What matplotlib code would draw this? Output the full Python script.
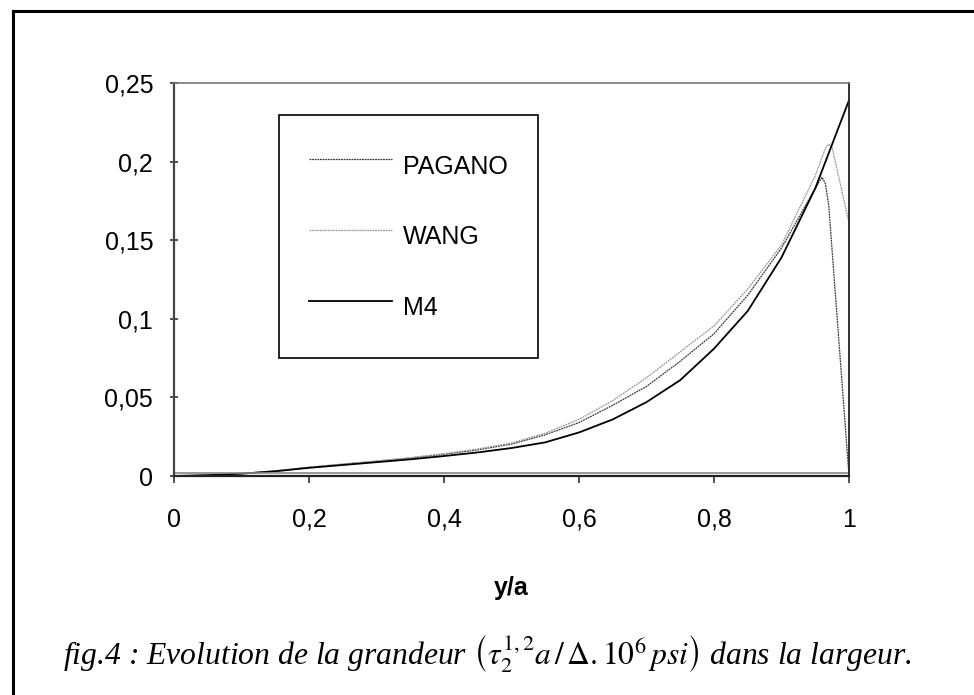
import matplotlib
matplotlib.use("Agg")
import matplotlib.pyplot as plt
import matplotlib.transforms as mtransforms
from matplotlib.lines import Line2D

plt.rcParams["font.family"] = ["Liberation Sans", "DejaVu Sans"]
plt.rcParams["mathtext.fontset"] = "stix"

# data
x_pagano = [0, 0.05, 0.1, 0.15, 0.2, 0.25, 0.3, 0.35, 0.4, 0.45, 0.5, 0.55, 0.6,
            0.65, 0.7, 0.75, 0.8, 0.85, 0.9, 0.95, 0.96, 0.965, 0.97, 1.0]
y_pagano = [0, 0.0005, 0.0015, 0.0032, 0.0055, 0.0075, 0.0094, 0.0114, 0.0138, 0.0166,
            0.0203, 0.0262, 0.034, 0.045, 0.057, 0.073, 0.0905, 0.115, 0.145, 0.183,
            0.190, 0.186, 0.172, 0.0]

x_wang = [0, 0.05, 0.1, 0.15, 0.2, 0.25, 0.3, 0.35, 0.4, 0.45, 0.5, 0.55, 0.6,
          0.65, 0.7, 0.75, 0.8, 0.85, 0.9, 0.95, 0.965, 0.97, 0.975, 1.0]
y_wang = [0, 0.0005, 0.0015, 0.0033, 0.0056, 0.0076, 0.0096, 0.0117, 0.0142, 0.0172,
          0.021, 0.0272, 0.036, 0.048, 0.0625, 0.079, 0.0955, 0.119, 0.147, 0.191,
          0.2085, 0.211, 0.209, 0.161]

x_m4 = [0, 0.05, 0.1, 0.15, 0.2, 0.25, 0.3, 0.35, 0.4, 0.45, 0.5, 0.55, 0.6,
        0.65, 0.7, 0.75, 0.8, 0.85, 0.9, 0.95, 1.0]
y_m4 = [0, 0.0005, 0.0015, 0.003, 0.0052, 0.007, 0.0088, 0.0106, 0.0127, 0.015,
        0.0178, 0.0214, 0.0277, 0.036, 0.047, 0.061, 0.081, 0.105, 0.139, 0.183, 0.239]

xticks = [0, 0.2, 0.4, 0.6, 0.8, 1]
xtick_labels = ["0", "0,2", "0,4", "0,6", "0,8", "1"]
yticks = [0, 0.05, 0.1, 0.15, 0.2, 0.25]
ytick_labels = ["0", "0,05", "0,1", "0,15", "0,2", "0,25"]

fig = plt.figure(figsize=(9.74, 6.95), dpi=100)
ax = fig.add_axes([174 / 974, 1 - 476 / 695, 675 / 974, 393 / 695])

ax.plot(x_pagano, y_pagano, color="#3a3a3a", linewidth=0.9, linestyle=(0, (1.5, 0.6)), label="PAGANO")
ax.plot(x_wang, y_wang, color="#9a9a9a", linewidth=0.9, linestyle=(0, (1.5, 0.6)), label="WANG")
ax.plot(x_m4, y_m4, color="black", linewidth=1.3, label="M4")

ax.set(xlim=(0, 1), ylim=(0, 0.25), xticks=xticks, yticks=yticks)
ax.set_xticklabels(xtick_labels, fontsize=18)
ax.set_yticklabels(ytick_labels, fontsize=18)
ax.tick_params(axis="y", direction="inout", length=6, width=1.2, pad=12, color="#333333")
ax.tick_params(axis="x", direction="out", length=5, width=1.2, pad=18, color="#333333")

ax.spines["top"].set_color("#777777")
ax.spines["top"].set_linewidth(1.2)
ax.spines["right"].set_color("#222222")
ax.spines["right"].set_linewidth(1.3)
ax.spines["left"].set_color("#444444")
ax.spines["left"].set_linewidth(1.6)
ax.spines["bottom"].set_color("#222222")
ax.spines["bottom"].set_linewidth(1.6)

# plot area border line just above the axis
trans = mtransforms.offset_copy(ax.transAxes, fig=fig, y=3.5, units="dots")
ax.add_line(Line2D([0, 1], [0, 0], transform=trans, color="#888888", linewidth=1.2))

ax.set_xlabel("y/a", fontsize=18, fontweight="bold")
ax.xaxis.set_label_coords(0.5, -0.255)

leg = ax.legend(loc="upper left", bbox_to_anchor=(279 / 974, 1 - 115 / 695),
                bbox_transform=fig.transFigure, fontsize=18, frameon=True,
                fancybox=False, borderpad=1.2, handleheight=2.2, labelspacing=1.15,
                handlelength=3.3, handletextpad=0.45, borderaxespad=0)
leg.get_frame().set_edgecolor("black")
leg.get_frame().set_linewidth(1.2)
leg.get_frame().set_alpha(1)

fig.text(0.50, 1 - 665 / 695,
         r"fig.4 : Evolution de la grandeur $\left(\tau_2^{1,2}a\,/\,\Delta{.}10^6\,psi\right)$ dans la largeur.",
         family=["Liberation Serif"], style="italic", fontsize=22.8,
         ha="center", va="baseline")

# outer frame (top and left edges only visible)
fig.add_artist(Line2D([12.5 / 974, 1], [1 - 10.5 / 695, 1 - 10.5 / 695],
                      transform=fig.transFigure, color="black", linewidth=2.2))
fig.add_artist(Line2D([12.5 / 974, 12.5 / 974], [0, 1 - 10.5 / 695],
                      transform=fig.transFigure, color="black", linewidth=2.2))

fig.savefig("out.png", dpi=100)
